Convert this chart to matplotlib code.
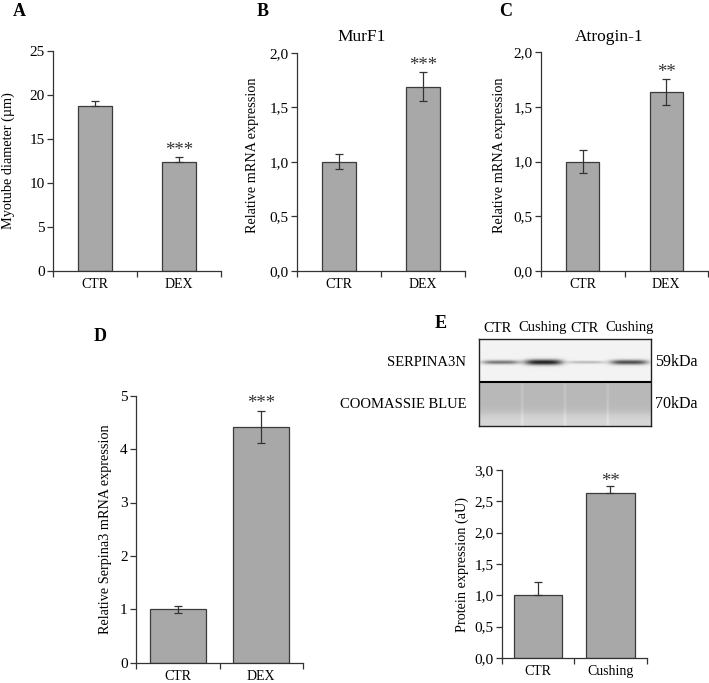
import numpy as np
import matplotlib
matplotlib.use("Agg")
import matplotlib.pyplot as plt

plt.rcParams['font.family'] = ['Liberation Serif', 'DejaVu Serif']

W, H = 709, 683
fig = plt.figure(figsize=(W / 100, H / 100), dpi=100)

# ---------------- data ----------------
cats_dex = ["CTR", "DEX"]
cats_cush = ["CTR", "Cushing"]

a_vals = [18.7, 12.4]
a_err_up = [0.6, 0.6]
a_err_dn = [0.0, 0.0]

b_vals = [1.00, 1.69]
b_err = [0.07, 0.135]

c_vals = [1.00, 1.635]
c_err = [0.105, 0.12]

d_vals = [1.00, 4.41]
d_err = [0.06, 0.295]

e_vals = [1.00, 2.64]
e_err_up = [0.21, 0.10]
e_err_dn = [0.0, 0.0]

a_ticks = [0, 5, 10, 15, 20, 25]
a_ticklabels = ["0", "5", "10", "15", "20", "25"]
bc_ticks = [0.0, 0.5, 1.0, 1.5, 2.0]
bc_ticklabels = ["0,0", "0,5", "1,0", "1,5", "2,0"]
d_ticks = [0, 1, 2, 3, 4, 5]
d_ticklabels = ["0", "1", "2", "3", "4", "5"]
e_ticks = [0.0, 0.5, 1.0, 1.5, 2.0, 2.5, 3.0]
e_ticklabels = ["0,0", "0,5", "1,0", "1,5", "2,0", "2,5", "3,0"]

blot_lanes = ["CTR", "Cushing", "CTR", "Cushing"]
blot_band_intensity = [0.55, 0.95, 0.25, 0.75]

BAR = '#a8a8a8'
EDGE = '#3a3a3a'
AX = '#333333'
YFS = 11
XFS = 10
LFS = 10.3


def px_axes(l, t, r, b):
    return fig.add_axes([l / W, 1 - b / H, (r - l) / W, (b - t) / H])


def style(ax, ticks, ticklabels, ylim, cats):
    ax.set_xlim(-0.5, 1.5)
    ax.set_ylim(*ylim)
    for s in ['top', 'right']:
        ax.spines[s].set_visible(False)
    for s in ['left', 'bottom']:
        ax.spines[s].set_color(AX)
        ax.spines[s].set_linewidth(0.9)
    ax.set_yticks(ticks)
    ax.set_yticklabels(ticklabels, fontsize=YFS)
    ax.set_xticks([0, 1])
    ax.set_xticklabels(cats, fontsize=XFS)
    ax.set_xticks([-0.5, 0.5, 1.5], minor=True)
    ax.tick_params(axis='x', which='major', length=0, pad=5)
    ax.tick_params(axis='x', which='minor', length=4, width=0.9, color=AX)
    ax.tick_params(axis='y', length=4, width=0.9, color=AX, pad=2)


def bars(ax, vals, err, width, stars, ylim):
    x = np.arange(len(vals))
    ax.bar(x, vals, width=width, color=BAR, edgecolor=EDGE, linewidth=0.9, zorder=2)
    ax.errorbar(x, vals, yerr=err, fmt='none', ecolor=AX, elinewidth=0.9,
                capsize=2.8, capthick=0.9, zorder=3)
    top = np.array(vals) + np.array(err[1] if np.ndim(err) == 2 else err)
    for i, s in enumerate(stars):
        if s:
            ax.text(x[i], top[i] + 0.028 * (ylim[1] - ylim[0]), s, ha='center',
                    va='center', fontsize=13.5, color='#333333')


def ylabel(ax, text, off_px, width_px, ypos=0.5):
    ax.text(-off_px / width_px, ypos, text, rotation=90, ha='center', va='center',
            transform=ax.transAxes, fontsize=LFS)


# ---------------- Panel A ----------------
axA = px_axes(53, 51, 221, 271)
style(axA, a_ticks, a_ticklabels, (0, 25), cats_dex)
bars(axA, a_vals, [a_err_dn, a_err_up], 0.4, ["", "***"], (0, 25))
ylabel(axA, "Myotube diameter (µm)", 45, 168)

# ---------------- Panel B ----------------
axB = px_axes(296.7, 52.7, 465, 271)
style(axB, bc_ticks, bc_ticklabels, (0, 2), cats_dex)
bars(axB, b_vals, b_err, 0.4, ["", "***"], (0, 2))
ylabel(axB, "Relative mRNA expression", 43.7, 168.3, 0.53)
fig.text(361.5 / W, 1 - 37 / H, "MurF1", ha='center', va='center', fontsize=12.5)

# ---------------- Panel C ----------------
axC = px_axes(541, 52, 708, 271)
style(axC, bc_ticks, bc_ticklabels, (0, 2), cats_dex)
bars(axC, c_vals, c_err, 0.4, ["", "**"], (0, 2))
ylabel(axC, "Relative mRNA expression", 41, 167, 0.53)
fig.text(609 / W, 1 - 37 / H, "Atrogin-1", ha='center', va='center', fontsize=12.5)

# ---------------- Panel D ----------------
axD = px_axes(136, 395.7, 303, 662.7)
style(axD, d_ticks, d_ticklabels, (0, 5), cats_dex)
bars(axD, d_vals, d_err, 0.67, ["", "***"], (0, 5))
ylabel(axD, "Relative Serpina3 mRNA expression", 30, 167)

# ---------------- Panel E ----------------
axE = px_axes(501.7, 470, 646.7, 658)
style(axE, e_ticks, e_ticklabels, (0, 3), cats_cush)
bars(axE, e_vals, [e_err_dn, e_err_up], 0.67, ["", "**"], (0, 3))
ylabel(axE, "Protein expression (aU)", 39, 145)

# ---------------- Blot ----------------
axBl = px_axes(479, 339, 650.7, 426)
nx, ny = 172, 87
xx = np.linspace(0, 1, nx)
yy = np.linspace(0, 1, ny)
X, Y = np.meshgrid(xx, yy)
img = np.ones((ny, nx))
sep = 42.7 / 87
top_mask = Y < sep
img[top_mask] = 0.95
lane_centers = [(i + 0.5) / 4 for i in range(4)]
band_y = 23.0 / 87
for c, inten in zip(lane_centers, blot_band_intensity):
    prof_x = np.exp(-((X - c) / 0.11) ** 4)
    prof_y = np.exp(-((Y - band_y) / (0.012 + 0.022 * inten)) ** 2)
    img -= top_mask * prof_x * prof_y * (0.85 * inten)
bottom_mask = ~top_mask
base = 0.72 + 0.12 / (1 + np.exp(-(Y - 0.86) / 0.03))
img[bottom_mask] = base[bottom_mask]
for b in [0.25, 0.5, 0.75]:
    img += bottom_mask * 0.05 * np.exp(-((X - b) / 0.008) ** 2)
img = np.clip(img, 0, 1)
axBl.imshow(img, cmap='gray', vmin=0, vmax=1, aspect='auto', extent=(0, 1, 1, 0),
            interpolation='bilinear')
axBl.axhline(sep, color='black', lw=1.5)
axBl.set_xlim(0, 1)
axBl.set_ylim(1, 0)
axBl.set_xticks([])
axBl.set_yticks([])
for s in axBl.spines.values():
    s.set_color('#222222')
    s.set_linewidth(1.0)

lane_label_x = [497, 543, 584.7, 630]
for lx, lab in zip(lane_label_x, blot_lanes):
    fig.text(lx / W, 1 - 328 / H, lab, ha='center', va='center', fontsize=10.5)
fig.text(466 / W, 1 - 362 / H, "SERPINA3N", ha='right', va='center', fontsize=10.5)
fig.text(466 / W, 1 - 404 / H, "COOMASSIE BLUE", ha='right', va='center', fontsize=10.5)
fig.text(655 / W, 1 - 362 / H, "59kDa", ha='left', va='center', fontsize=11.5)
fig.text(655 / W, 1 - 404 / H, "70kDa", ha='left', va='center', fontsize=11.5)

# ---------------- Panel letters ----------------
for lx, ly, lab in [(19, 11, "A"), (263, 12, "B"), (506, 11, "C"), (100, 337, "D"), (441, 323, "E")]:
    fig.text(lx / W, 1 - ly / H, lab, ha='center', va='center', fontsize=13, fontweight='bold')

fig.savefig("out.png", dpi=100)
